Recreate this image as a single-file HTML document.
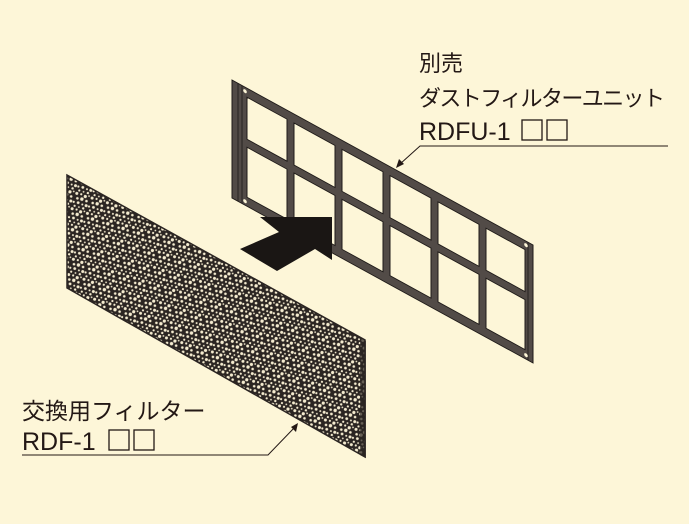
<!DOCTYPE html>
<html><head><meta charset="utf-8"><style>
html,body{margin:0;padding:0;background:#fdf6d8;}
svg{display:block}
text{font-family:"Liberation Sans","Noto Sans CJK JP",sans-serif;fill:#231815;}
</style></head><body>
<svg width="689" height="524" viewBox="0 0 689 524" xmlns="http://www.w3.org/2000/svg">
<defs>
<pattern id="foam" width="16" height="16" patternUnits="userSpaceOnUse" patternTransform="rotate(17)">
<rect width="16" height="16" fill="#2b2522"/>
<circle cx="2" cy="2.5" r="1.5" fill="#f5ecd0"/>
<circle cx="6.5" cy="2" r="1.1" fill="#f5ecd0"/>
<circle cx="11" cy="3" r="1.6" fill="#f5ecd0"/>
<circle cx="14.5" cy="1.5" r="0.9" fill="#f5ecd0"/>
<circle cx="4" cy="7" r="1.3" fill="#f5ecd0"/>
<circle cx="8.5" cy="6.5" r="1.7" fill="#f5ecd0"/>
<circle cx="13.5" cy="7" r="1.3" fill="#f5ecd0"/>
<circle cx="1.5" cy="11.5" r="1.1" fill="#f5ecd0"/>
<circle cx="6" cy="11" r="1.4" fill="#f5ecd0"/>
<circle cx="10.5" cy="11.5" r="1.0" fill="#f5ecd0"/>
<circle cx="14.5" cy="11.5" r="1.5" fill="#f5ecd0"/>
<circle cx="3.5" cy="15" r="1.1" fill="#f5ecd0"/>
<circle cx="8" cy="15" r="0.9" fill="#f5ecd0"/>
<circle cx="12.5" cy="15" r="1.2" fill="#f5ecd0"/>
</pattern>
</defs>

<!-- filter -->
<polygon points="67,175 365,340 365,457 67,288" fill="url(#foam)" stroke="#2b2522" stroke-width="1.5"/>
<polygon points="360,338 366,341 366,458 360,455" fill="#2b2522" opacity="0.7"/>

<!-- frame -->
<g transform="matrix(1,0.548,0,1,0,-127.1)">
<path fill-rule="evenodd" fill="#524b47" stroke="#1e1a18" stroke-width="1" d="
M232,80 H533 V198 H232 Z
M247,89 H287 V131 H247 Z M247,139 H287 V189 H247 Z
M294,89 H335 V131 H294 Z M294,139 H335 V189 H294 Z
M342,89 H383 V131 H342 Z M342,139 H383 V189 H342 Z
M390,89 H431 V131 H390 Z M390,139 H431 V189 H390 Z
M438,89 H479 V131 H438 Z M438,139 H479 V189 H438 Z
M486,89 H525 V131 H486 Z M486,139 H525 V189 H486 Z"/>
<line x1="238" y1="80" x2="238" y2="198" stroke="#1e1a18" stroke-width="0.8"/>
<line x1="242" y1="80" x2="242" y2="198" stroke="#1e1a18" stroke-width="0.8"/>
<line x1="528" y1="80" x2="528" y2="198" stroke="#1e1a18" stroke-width="0.8"/>
<circle cx="245" cy="84" r="1.8" fill="#fdf6d8"/>
<circle cx="245" cy="194" r="1.8" fill="#fdf6d8"/>
<circle cx="526" cy="84" r="1.8" fill="#fdf6d8"/>
<circle cx="526" cy="194" r="1.8" fill="#fdf6d8"/>
</g>

<!-- arrow -->
<polygon points="260,217 332,217 332,260 315,249 277,271 240,249 279,232" fill="#1a1614"/>

<!-- top label -->
<text x="419" y="71" font-size="22">別売</text>
<text x="419" y="106" font-size="22" letter-spacing="-1.6">ダストフィルターユニット</text>
<text x="419" y="140" font-size="25">RDFU-1</text>
<rect x="522" y="120" width="20" height="20" fill="none" stroke="#231815" stroke-width="1.3"/>
<rect x="547" y="120" width="20" height="20" fill="none" stroke="#231815" stroke-width="1.3"/>
<polyline points="668,146 420,146 400,164" fill="none" stroke="#231815" stroke-width="1"/>
<polygon points="396,168 399,159 404,164" fill="#231815"/>

<!-- bottom label -->
<text x="22" y="419" font-size="23" letter-spacing="0">交換用フィルター</text>
<text x="22" y="450" font-size="25">RDF-1</text>
<rect x="109" y="430" width="20" height="20" fill="none" stroke="#231815" stroke-width="1.3"/>
<rect x="134" y="430" width="20" height="20" fill="none" stroke="#231815" stroke-width="1.3"/>
<polyline points="22,455 268,455 295,427" fill="none" stroke="#231815" stroke-width="1"/>
<polygon points="298,423 296,432 291,427" fill="#231815"/>
</svg>
</body></html>
